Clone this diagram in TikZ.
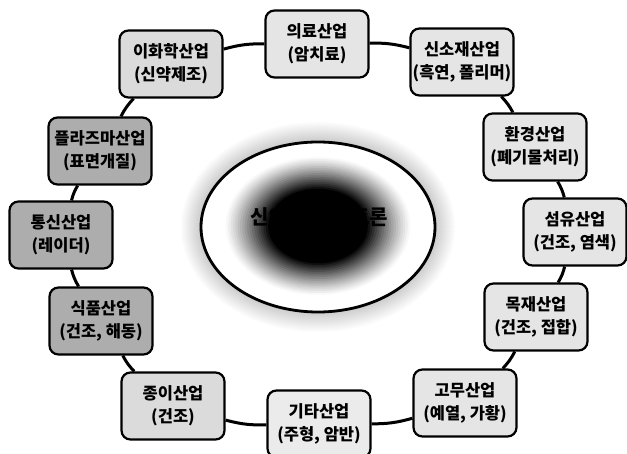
\documentclass[tikz,border=0pt]{standalone}
\usepackage{fontspec}
\newfontfamily\kr{Noto Sans CJK KR}
\usetikzlibrary{shapes.geometric}
\begin{document}
\begin{tikzpicture}[x=1pt,y=-1pt,
  ind/.style={draw=black, line width=2.2pt, rounded corners=9pt, minimum width=103pt, minimum height=67pt, align=center, inner sep=0pt, font=\kr\bfseries\fontsize{16.5}{23}\selectfont, fill=black!10},
  dk/.style={fill=black!32},
  link/.style={line width=3pt, bend left=8}]
\useasboundingbox (0,0) rectangle (627,454);
\fill[white] (0,0) rectangle (627,454);
\coordinate (c) at (318,227);
% halo round the centre
\foreach \i in {0,...,20}{
  \pgfmathsetmacro{\myrx}{138-\i*1.0}
  \pgfmathsetmacro{\myry}{106-\i*1.0}
  \pgfmathsetmacro{\myk}{\i*1.0}
  \fill[black!\myk] (c) ellipse [x radius=\myrx pt, y radius=\myry pt];
}
\draw[line width=2.8pt, fill=white] (c) ellipse [x radius=117pt, y radius=85pt];
% dark blob
\foreach \i in {0,...,40}{
  \pgfmathsetmacro{\myrx}{94*(1-\i/40)+0.5}
  \pgfmathsetmacro{\myry}{70*(1-\i/40)+0.5}
  \pgfmathsetmacro{\myk}{min(100,100*(\i/19)^1.2)}
  \fill[black!\myk] (318,226) ellipse [x radius=\myrx pt, y radius=\myry pt];
}
\node (title) at (319,217) [font=\kr\bfseries\fontsize{20}{24}\selectfont] {신의 빛 일렉트론};
% boxes
\node[ind] (med) at (317,44) {의료산업\\(암치료)};
\node[ind] (mat) at (462,62) {신소재산업\\(흑연, 폴리머)};
\node[ind] (env) at (535,147) {환경산업\\(폐기물처리)};
\node[ind] (fib) at (575,232) {섬유산업\\(건조, 염색)};
\node[ind] (wood) at (536,317) {목재산업\\(건조, 접합)};
\node[ind] (rub) at (465,403) {고무산업\\(예열, 가황)};
\node[ind, fill=black!8] (etc) at (319,424) {기타산업\\(주형, 암반)};
\node[ind, fill=black!14] (paper) at (173,406) {종이산업\\(건조)};
\node[ind, dk] (food) at (101,321) {식품산업\\(건조, 해동)};
\node[ind, dk] (comm) at (61,235) {통신산업\\(레이더)};
\node[ind, dk] (plasma) at (100,151) {플라즈마산업\\(표면개질)};
\node[ind, fill=black!14] (chem) at (171,64) {이화학산업\\(신약제조)};
% ring
\draw[link] (med) to (mat);
\draw[link] (mat) to (env);
\draw[link] (env) to (fib);
\draw[link] (fib) to (wood);
\draw[link] (wood) to (rub);
\draw[link] (rub) to (etc);
\draw[link] (etc) to (paper);
\draw[link] (paper) to (food);
\draw[link] (food) to (comm);
\draw[link] (comm) to (plasma);
\draw[link] (plasma) to (chem);
\draw[link] (chem) to (med);
\end{tikzpicture}
\end{document}
